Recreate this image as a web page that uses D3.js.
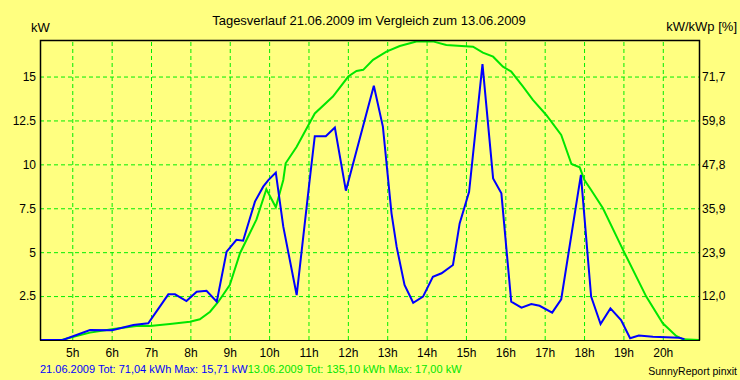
<!DOCTYPE html>
<html>
<head>
<meta charset="utf-8">
<script src="https://cdn.jsdelivr.net/npm/d3@7"></script>
<style>
body { margin: 0; background: #ffff80; }
svg { display: block; font-family: "Liberation Sans", Arial, sans-serif; }
</style>
</head>
<body>
<svg></svg>
<script>
// hours of the day (decimal) and kW
var blueTimes = [4.18, 4.76, 5.45, 6.01, 6.55, 6.93, 7.44, 7.61, 7.90, 8.16, 8.41, 8.67, 8.92, 9.17, 9.34,
    9.64, 9.85, 9.98, 10.17, 10.36, 10.70, 11.03, 11.16, 11.44, 11.67, 11.95, 12.66, 12.89, 13.11, 13.24,
    13.44, 13.66, 13.91, 14.16, 14.38, 14.67, 14.84, 15.08, 15.42, 15.69, 15.90, 16.15, 16.41, 16.66,
    16.87, 17.19, 17.42, 17.92, 18.18, 18.42, 18.67, 18.94, 19.17, 19.39, 19.75, 20.42, 20.55];
var blueValues = [0, 0, 0.57, 0.55, 0.85, 0.95, 2.6, 2.6, 2.22, 2.75, 2.8, 2.18, 5.03, 5.7, 5.65,
    7.88, 8.73, 9.1, 9.53, 6.45, 2.56, 9.1, 11.6, 11.6, 12.1, 8.5, 14.48, 12.15, 7.2, 5.3,
    3.13, 2.12, 2.47, 3.6, 3.8, 4.27, 6.64, 8.44, 15.71, 9.2, 8.35, 2.18, 1.84, 2.05,
    1.95, 1.56, 2.32, 9.4, 2.47, 0.91, 1.8, 1.14, 0.1, 0.25, 0.19, 0.13, 0.05];

var greenTimes = [4.18, 4.73, 5.03, 5.45, 6.04, 6.63, 6.97, 7.48, 7.99, 8.24, 8.50, 8.71, 9.00, 9.26,
    9.68, 9.93, 10.17, 10.36, 10.42, 10.70, 11.16, 11.62, 12.01, 12.22, 12.39, 12.64, 12.98, 13.32,
    13.74, 14.04, 14.16, 14.50, 15.18, 15.43, 15.69, 15.94, 16.15, 16.45, 16.70, 17.04, 17.42, 17.68,
    17.89, 18.01, 18.18, 18.48, 18.99, 19.58, 20.00, 20.34, 20.51, 20.92];
var greenValues = [0, 0, 0.19, 0.42, 0.63, 0.8, 0.8, 0.91, 1.04, 1.18, 1.61, 2.18, 3.13, 4.94,
    6.87, 8.58, 7.56, 9.11, 10.06, 11.0, 12.9, 13.86, 15.0, 15.32, 15.38, 15.95, 16.42, 16.74,
    16.99, 17.0, 17.0, 16.8, 16.7, 16.36, 16.13, 15.56, 15.28, 14.42, 13.67, 12.81, 11.67, 10.02,
    9.83, 9.11, 8.54, 7.5, 5.13, 2.47, 0.95, 0.23, 0.04, 0];

var hourTicks = [5, 6, 7, 8, 9, 10, 11, 12, 13, 14, 15, 16, 17, 18, 19, 20];
var kwTicks = [2.5, 5, 7.5, 10, 12.5, 15];
var kwTickLabels = ["2.5", "5", "7.5", "10", "12.5", "15"];
var pctTickLabels = ["12,0", "23,9", "35,9", "47,8", "59,8", "71,7"];

var svg = d3.select("svg").attr("width", 740).attr("height", 380),
    width = +svg.attr("width"),
    height = +svg.attr("height");

// plot box edges
var plotLeft = 40, plotRight = 699, plotTop = 40, plotBottom = 340;
var gridColor = "#00ee00", blue = "#0000ff", green = "#00e600";

var x = d3.scaleLinear().domain([4.18, 20.92]).range([plotLeft, plotRight]);
var y = d3.scaleLinear().domain([0, 17.08]).range([plotBottom, plotTop]);

svg.append("rect").attr("width", width).attr("height", height).attr("fill", "#ffff80");

//grid lines, dashed green
svg.append("g")
    .attr("transform", "translate(0," + plotBottom + ")")
    .call(d3.axisBottom(x).tickValues(hourTicks).tickSize(-(plotBottom - plotTop)).tickFormat(""))
    .call(function (g) { g.select(".domain").remove(); })
    .selectAll("line")
    .attr("stroke", gridColor)
    .attr("stroke-dasharray", "4,3");

svg.append("g")
    .attr("transform", "translate(" + plotLeft + ",0)")
    .call(d3.axisLeft(y).tickValues(kwTicks).tickSize(-(plotRight - plotLeft)).tickFormat(""))
    .call(function (g) { g.select(".domain").remove(); })
    .selectAll("line")
    .attr("stroke", gridColor)
    .attr("stroke-dasharray", "4,3");

//hour labels under the plot
svg.append("g")
    .attr("transform", "translate(0," + plotBottom + ")")
    .call(d3.axisBottom(x).tickValues(hourTicks).tickSize(0).tickPadding(8)
        .tickFormat(function (d) { return d + "h"; }))
    .call(function (g) { g.select(".domain").remove(); })
    .selectAll("text")
    .attr("font-family", "Liberation Sans, Arial, sans-serif")
    .attr("font-size", 12)
    .attr("fill", "#000");

//left kW axis
svg.append("g")
    .attr("transform", "translate(" + (plotLeft - 3) + ",0)")
    .call(d3.axisLeft(y).tickValues(kwTicks).tickSize(0).tickPadding(1)
        .tickFormat(function (d, i) { return kwTickLabels[i]; }))
    .call(function (g) { g.select(".domain").remove(); })
    .selectAll("text")
    .attr("font-family", "Liberation Sans, Arial, sans-serif")
    .attr("font-size", 12)
    .attr("fill", "#000");

//right percent axis, same grid positions
svg.append("g")
    .attr("transform", "translate(" + (plotRight + 2) + ",0)")
    .call(d3.axisRight(y).tickValues(kwTicks).tickSize(0).tickPadding(1)
        .tickFormat(function (d, i) { return pctTickLabels[i]; }))
    .call(function (g) { g.select(".domain").remove(); })
    .selectAll("text")
    .attr("font-family", "Liberation Sans, Arial, sans-serif")
    .attr("font-size", 12)
    .attr("fill", "#000");

//the two curves
var line = d3.line()
    .x(function (d) { return x(d[0]); })
    .y(function (d) { return y(d[1]); });

svg.append("path")
    .datum(d3.zip(greenTimes, greenValues))
    .attr("d", line)
    .attr("fill", "none")
    .attr("stroke", green)
    .attr("stroke-width", 2);

svg.append("path")
    .datum(d3.zip(blueTimes, blueValues))
    .attr("d", line)
    .attr("fill", "none")
    .attr("stroke", blue)
    .attr("stroke-width", 2);

//plot frame
svg.append("path")
    .attr("d", "M" + (plotLeft + 0.5) + "," + (plotBottom + 0.5) + "V" + (plotTop + 0.5) + "H" + (plotRight + 0.5) + "V" + (plotBottom + 0.5))
    .attr("fill", "none")
    .attr("stroke", "#000")
    .attr("stroke-width", 1.5);
svg.append("line")
    .attr("x1", plotLeft).attr("x2", plotRight + 1)
    .attr("y1", plotBottom + 0.5).attr("y2", plotBottom + 0.5)
    .attr("stroke", "#000");

//titles
svg.append("text")
    .attr("x", 369).attr("y", 25)
    .attr("text-anchor", "middle")
    .attr("font-size", 13)
    .text("Tagesverlauf 21.06.2009 im Vergleich zum 13.06.2009");
svg.append("text")
    .attr("x", 31).attr("y", 32)
    .attr("font-size", 13)
    .text("kW");
svg.append("text")
    .attr("x", 737).attr("y", 31)
    .attr("text-anchor", "end")
    .attr("font-size", 13)
    .text("kW/kWp [%]");

//footer
var foot = svg.append("text")
    .attr("x", 40).attr("y", 373)
    .attr("font-size", 11);
foot.append("tspan").attr("fill", blue).text("21.06.2009 Tot: 71,04 kWh Max: 15,71 kW");
foot.append("tspan").attr("fill", green).text("13.06.2009 Tot: 135,10 kWh Max: 17,00 kW");
svg.append("text")
    .attr("x", 737).attr("y", 375)
    .attr("text-anchor", "end")
    .attr("font-size", 10.5)
    .text("SunnyReport pinxit");
</script>
</body>
</html>
